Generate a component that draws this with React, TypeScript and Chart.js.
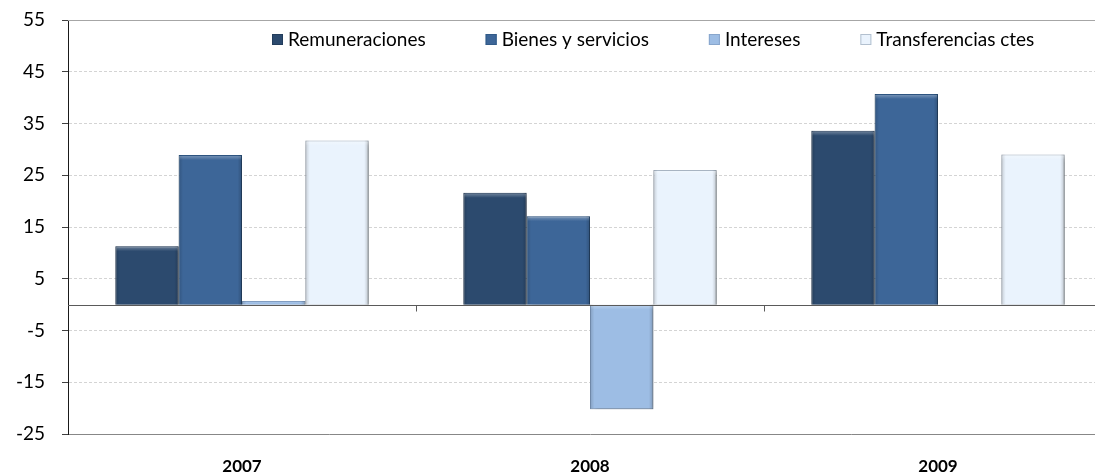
import React, { useEffect, useRef } from 'react';
import { Chart, registerables } from 'chart.js';

Chart.register(...registerables);

const categories = ['2007', '2008', '2009'];
const seriesNames = ['Remuneraciones', 'Bienes y servicios', 'Intereses', 'Transferencias ctes'];
const remuneraciones = [11.3, 21.6, 33.6];
const bienesServicios = [28.9, 17.1, 40.7];
const intereses = [0.7, -20.2, -0.2];
const transferencias = [31.7, 26.0, 29.0];
const yTicks = [-25, -15, -5, 5, 15, 25, 35, 45, 55];

const fills = ['#2C4A6E', '#3D6698', '#9DBDE4', '#EAF3FD'];
const borders = ['#233d5c', '#315a88', '#88a6cc', '#b3c0cf'];

const FONT = 'Lato, "Open Sans", sans-serif';

const decorPlugin = {
  id: 'decor',
  beforeDatasetsDraw(chart: any) {
    const ctx = chart.ctx;
    ctx.save();
    ctx.shadowColor = 'rgba(0,0,0,0.35)';
    ctx.shadowBlur = 5;
    ctx.shadowOffsetX = 2;
    ctx.shadowOffsetY = 2;
  },
  afterDatasetsDraw(chart: any) {
    const ctx = chart.ctx;
    ctx.restore();
    const { left, right } = chart.chartArea;
    const ys = chart.scales.y;
    const xs = chart.scales.x;

    // bevel shading on each bar
    ctx.save();
    chart.data.datasets.forEach((_ds: any, di: number) => {
      const meta = chart.getDatasetMeta(di);
      meta.data.forEach((el: any) => {
        const p = el.getProps(['x', 'y', 'base', 'width'], true);
        const bl = p.x - p.width / 2;
        const bt = Math.min(p.y, p.base);
        const bh = Math.abs(p.base - p.y);
        if (bh < 2) return;
        const g = ctx.createLinearGradient(bl, 0, bl + p.width, 0);
        g.addColorStop(0, 'rgba(0,0,0,0.16)');
        g.addColorStop(0.07, 'rgba(0,0,0,0)');
        g.addColorStop(0.93, 'rgba(0,0,0,0)');
        g.addColorStop(1, 'rgba(0,0,0,0.2)');
        ctx.fillStyle = g;
        ctx.fillRect(bl, bt, p.width, bh);
        const sh = Math.min(5, bh / 2);
        const gt = ctx.createLinearGradient(0, bt, 0, bt + sh);
        gt.addColorStop(0, 'rgba(255,255,255,0.35)');
        gt.addColorStop(1, 'rgba(255,255,255,0)');
        ctx.fillStyle = gt;
        ctx.fillRect(bl + 1, bt + 1, p.width - 2, sh);
      });
    });
    ctx.restore();

    ctx.save();
    ctx.lineWidth = 1;
    // top border line
    const yt = Math.round(ys.getPixelForValue(yTicks[yTicks.length - 1])) + 0.5;
    ctx.strokeStyle = '#a6a6a6';
    ctx.beginPath();
    ctx.moveTo(left, yt);
    ctx.lineTo(right, yt);
    ctx.stroke();
    // zero axis line
    const y0 = Math.round(ys.getPixelForValue(0)) + 0.5;
    ctx.strokeStyle = '#5a5a5a';
    ctx.beginPath();
    ctx.moveTo(left, y0);
    ctx.lineTo(right, y0);
    ctx.stroke();
    // category boundary ticks
    for (let i = 1; i < categories.length; i++) {
      const bx = Math.round((xs.getPixelForValue(i - 1) + xs.getPixelForValue(i)) / 2) + 0.5;
      ctx.beginPath();
      ctx.moveTo(bx, y0);
      ctx.lineTo(bx, y0 + 6);
      ctx.stroke();
    }
    ctx.restore();
  },
  afterDraw(chart: any) {
    const ctx = chart.ctx;
    ctx.save();
    ctx.font = '19px ' + FONT;
    ctx.textBaseline = 'middle';
    ctx.textAlign = 'left';
    let lx = chart.chartArea.left + 204;
    const ly = 40;
    chart.data.datasets.forEach((ds: any) => {
      ctx.fillStyle = ds.backgroundColor;
      ctx.fillRect(lx, ly - 6, 11, 11);
      ctx.strokeStyle = ds.borderColor;
      ctx.lineWidth = 1;
      ctx.strokeRect(lx + 0.5, ly - 5.5, 10, 10);
      ctx.fillStyle = '#000';
      ctx.fillText(ds.label, lx + 16, ly);
      lx += 16 + ctx.measureText(ds.label).width + 60;
    });
    ctx.restore();
  },
};

export default function App() {
  const ref = useRef<HTMLCanvasElement>(null);

  useEffect(() => {
    if (!ref.current) return;
    const values = [remuneraciones, bienesServicios, intereses, transferencias];
    const chart = new Chart(ref.current, {
      type: 'bar',
      data: {
        labels: categories,
        datasets: seriesNames.map((name, i) => ({
          label: name,
          data: values[i],
          backgroundColor: fills[i],
          borderColor: borders[i],
          borderWidth: 1,
          categoryPercentage: 0.728,
          barPercentage: 1,
        })),
      },
      options: {
        responsive: false,
        animation: false,
        layout: { padding: { top: 20, left: 0, right: 0, bottom: 0 } },
        plugins: {
          legend: { display: false },
          tooltip: { enabled: false },
        },
        scales: {
          x: {
            grid: { display: false, drawTicks: false, tickLength: 0 },
            border: { display: true, color: '#878787', width: 1 },
            ticks: {
              color: '#000',
              font: { family: FONT, size: 17, weight: 'bold' },
              padding: 22,
            },
            afterFit(scale: any) {
              scale.height = 42;
            },
          },
          y: {
            min: yTicks[0],
            max: yTicks[yTicks.length - 1],
            afterBuildTicks(scale: any) {
              scale.ticks = yTicks.map((v) => ({ value: v }));
            },
            afterFit(scale: any) {
              scale.width = 68;
              scale.paddingTop = 12;
              scale.paddingBottom = 12;
            },
            grid: {
              color: (c: any) =>
                c.tick && (c.tick.value === yTicks[0] || c.tick.value === yTicks[yTicks.length - 1])
                  ? 'rgba(0,0,0,0)'
                  : '#d4d4d4',
              tickColor: '#404040',
              tickLength: 6,
              drawTicks: true,
            },
            border: { display: true, color: '#1a1a1a', width: 1, dash: [3, 2] },
            ticks: {
              color: '#000',
              font: { family: FONT, size: 19 },
              padding: 17,
            },
          },
        },
      },
      plugins: [decorPlugin],
    });
    return () => chart.destroy();
  }, []);

  return (
    <div
      style={{
        position: 'fixed',
        left: 0,
        top: 0,
        width: 1095,
        height: 476,
        overflow: 'hidden',
        background: '#fff',
      }}
    >
      <canvas ref={ref} width={1112} height={476} style={{ display: 'block' }} />
    </div>
  );
}
